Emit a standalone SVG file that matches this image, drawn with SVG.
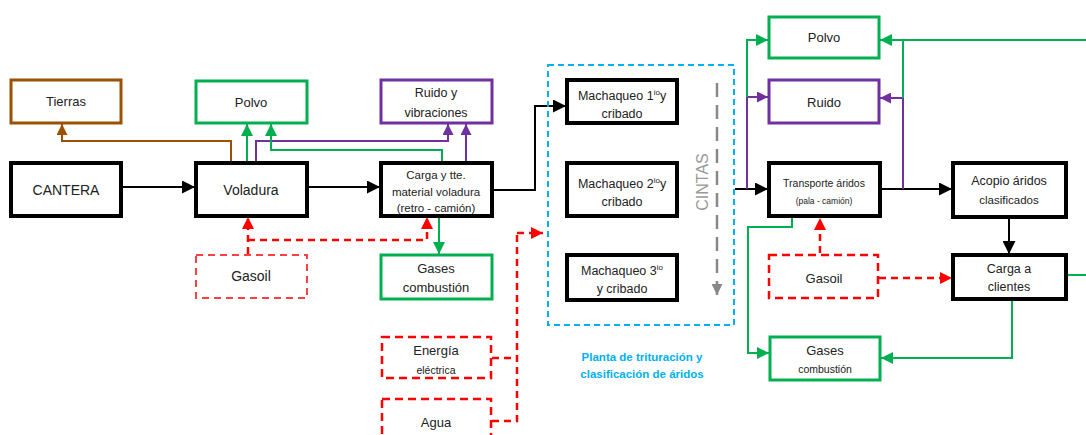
<svg xmlns="http://www.w3.org/2000/svg" width="1086" height="435" viewBox="0 0 1086 435">
<style>
text{font-family:"Liberation Sans",Arial,sans-serif;fill:#222;text-anchor:middle}
.bk{fill:#fff;stroke:#000;stroke-width:4}
.gr{fill:#fff;stroke:#00b050;stroke-width:3}
.pu{fill:#fff;stroke:#7030a0;stroke-width:3}
.br{fill:#fff;stroke:#9c5100;stroke-width:3}
.rd{fill:#fff;stroke:#ff0000;stroke-width:2.5;stroke-dasharray:8 5}
.rdl{fill:#fff;stroke:#ff4040;stroke-width:2;stroke-dasharray:7 5}
.c{fill:none;stroke-width:2}
.cb{stroke:#000;marker-end:url(#ab)}
.cg{stroke:#00b050;marker-end:url(#ag)}
.cgn{stroke:#00b050}
.cp{stroke:#7030a0;marker-end:url(#ap)}
.cbr{stroke:#9c5100;marker-end:url(#abr)}
.cr{stroke:#ff0000;stroke-width:2.5;stroke-dasharray:7 5;marker-end:url(#ar)}
.crn{stroke:#ff0000;stroke-width:2.5;stroke-dasharray:7 5}
</style>
<defs>
<marker id="ab" viewBox="0 0 10 10" refX="10" refY="5" markerWidth="13" markerHeight="13" markerUnits="userSpaceOnUse" orient="auto"><path d="M0,0L10,5L0,10z" fill="#000"/></marker>
<marker id="ag" viewBox="0 0 10 10" refX="10" refY="5" markerWidth="12" markerHeight="12" markerUnits="userSpaceOnUse" orient="auto"><path d="M0,0L10,5L0,10z" fill="#00b050"/></marker>
<marker id="ap" viewBox="0 0 10 10" refX="10" refY="5" markerWidth="11" markerHeight="11" markerUnits="userSpaceOnUse" orient="auto"><path d="M0,0L10,5L0,10z" fill="#7030a0"/></marker>
<marker id="abr" viewBox="0 0 10 10" refX="10" refY="5" markerWidth="11" markerHeight="11" markerUnits="userSpaceOnUse" orient="auto"><path d="M0,0L10,5L0,10z" fill="#9c5100"/></marker>
<marker id="ar" viewBox="0 0 10 10" refX="10" refY="5" markerWidth="12" markerHeight="12" markerUnits="userSpaceOnUse" orient="auto"><path d="M0,0L10,5L0,10z" fill="#ff0000"/></marker>
<marker id="agy" viewBox="0 0 10 10" refX="10" refY="5" markerWidth="11" markerHeight="11" markerUnits="userSpaceOnUse" orient="auto"><path d="M0,0L10,5L0,10z" fill="#888"/></marker>
</defs>

<g id="connectors">
<path class="c cb" d="M123,187H195"/>
<path class="c cb" d="M308,187H380"/>
<path class="c cb" d="M493,190H535V106H566"/>
<path class="c cb" d="M735,189H768"/>
<path class="c cb" d="M881,189H952"/>
<path class="c cb" d="M1009,218V254"/>
<path class="c cbr" d="M231,162V141H62V124"/>
<path class="c cg" d="M247,162V124"/>
<path class="c cp" d="M256,162V141H448V124"/>
<path class="c cg" d="M442,162V150H271V124"/>
<path class="c cp" d="M466,162V124"/>
<path class="c cg" d="M439,217V254"/>
<path class="c cr" d="M248,254V217"/>
<path class="c cr" d="M248,240H427V217"/>
<path class="c crn" d="M492,358H517"/>
<path class="c crn" d="M492,421H517V233"/>
<path class="c cr" d="M517,233H543"/>
<path class="c cp" d="M747,189V97H768"/>
<path class="c cg" d="M747,97V40H768"/>
<path class="c cp" d="M903,189V98H880"/>
<path class="c cgn" d="M903,98V40"/>
<path class="c cg" d="M1086,40H880"/>
<path class="c cg" d="M792,217V227H748V353H769"/>
<path class="c cg" d="M1012,300V358H881"/>
<path class="c cgn" d="M1067,275H1086"/>
<path class="c cr" d="M820,253V218"/>
<path class="c cr" d="M879,278H952"/>
<path d="M717,83V295" fill="none" stroke="#888" stroke-width="2.5" stroke-dasharray="14 8" marker-end="url(#agy)"/>
</g>

<g id="planta">
<rect x="548" y="65" width="186" height="260" fill="none" stroke="#00b0f0" stroke-width="2" stroke-dasharray="6 4"/>
<text x="642" y="361" style="fill:#00b0f0;font-size:11.5px;font-weight:bold">Planta de trituración y</text>
<text x="642" y="378" style="fill:#00b0f0;font-size:11.5px;font-weight:bold">clasificación de áridos</text>
<text x="702" y="188" transform="rotate(-90 702 182)" style="fill:#999;font-size:16px">CINTAS</text>
</g>

<g id="tierras"><rect class="br" x="11" y="80" width="110" height="43"/><text x="66" y="106" font-size="13">Tierras</text></g>
<g id="polvo1"><rect class="gr" x="196" y="81" width="111" height="42"/><text x="251" y="107" font-size="13">Polvo</text></g>
<g id="ruido1"><rect class="pu" x="381" y="80" width="111" height="43"/><text x="436" y="97" font-size="12.5">Ruido y</text><text x="436" y="117" font-size="12.5">vibraciones</text></g>
<g id="cantera"><rect class="bk" x="11" y="163" width="110" height="53"/><text x="66" y="195" font-size="14">CANTERA</text></g>
<g id="voladura"><rect class="bk" x="196" y="163" width="111" height="53"/><text x="251" y="195" font-size="14">Voladura</text></g>
<g id="carga1"><rect class="bk" x="381" y="163" width="111" height="53"/><text x="436" y="179" font-size="11.5">Carga y tte.</text><text x="436" y="196" font-size="11.5">material voladura</text><text x="436" y="212" font-size="11.5">(retro - camión)</text></g>
<g id="gasoil1"><rect class="rdl" x="196" y="255" width="111" height="43"/><text x="251" y="281" font-size="14">Gasoil</text></g>
<g id="gases1"><rect class="gr" x="381" y="255" width="111" height="44"/><text x="436" y="273" font-size="13">Gases</text><text x="436" y="292" font-size="13">combustión</text></g>
<g id="energia"><rect class="rd" x="382" y="337" width="109" height="41"/><text x="436" y="355" font-size="13">Energía</text><text x="436" y="374" font-size="10.5">eléctrica</text></g>
<g id="agua"><rect class="rd" x="382" y="399" width="109" height="45"/><text x="436" y="427" font-size="13">Agua</text></g>
<g id="mach1"><rect class="bk" x="567" y="80" width="110" height="43"/><text x="622" y="100" font-size="12.5">Machaqueo 1<tspan font-size="8" dy="-5">io</tspan><tspan dy="5">y</tspan></text><text x="622" y="118" font-size="12.5">cribado</text></g>
<g id="mach2"><rect class="bk" x="567" y="163" width="110" height="53"/><text x="622" y="188" font-size="12.5">Machaqueo 2<tspan font-size="8" dy="-5">io</tspan><tspan dy="5">y</tspan></text><text x="622" y="206" font-size="12.5">cribado</text></g>
<g id="mach3"><rect class="bk" x="567" y="255" width="110" height="45"/><text x="622" y="275" font-size="12.5">Machaqueo 3<tspan font-size="8" dy="-5">io</tspan></text><text x="622" y="293" font-size="12.5">y cribado</text></g>
<g id="polvo2"><rect class="gr" x="769" y="17" width="110" height="41"/><text x="824" y="42" font-size="13">Polvo</text></g>
<g id="ruido2"><rect class="pu" x="769" y="80" width="110" height="43"/><text x="824" y="107" font-size="13">Ruido</text></g>
<g id="transporte"><rect class="bk" x="769" y="163" width="111" height="53"/><text x="824" y="187" font-size="10.5">Transporte áridos</text><text x="824" y="204" font-size="8.5">(pala - camión)</text></g>
<g id="acopio"><rect class="bk" x="953" y="163" width="113" height="54"/><text x="1009" y="185" font-size="12.5">Acopio áridos</text><text x="1009" y="204" font-size="11.5">clasificados</text></g>
<g id="gasoil2"><rect class="rd" x="769" y="255" width="109" height="43"/><text x="824" y="283" font-size="13">Gasoil</text></g>
<g id="cargaclientes"><rect class="bk" x="953" y="255" width="113" height="44"/><text x="1009" y="273" font-size="12.5">Carga a</text><text x="1009" y="291" font-size="12.5">clientes</text></g>
<g id="gases2"><rect class="gr" x="770" y="337" width="110" height="43"/><text x="825" y="355" font-size="13">Gases</text><text x="825" y="373" font-size="10.5">combustión</text></g>
</svg>
